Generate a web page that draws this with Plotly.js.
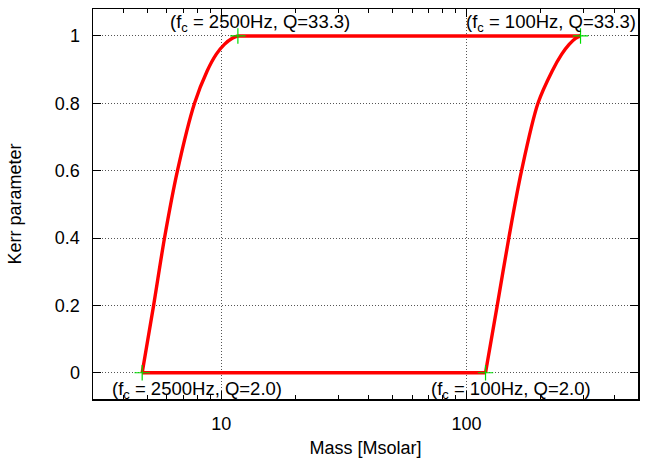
<!DOCTYPE html>
<html>
<head>
<meta charset="utf-8">
<script src="https://cdn.plot.ly/plotly-3.0.1.min.js"></script>
<style>html,body{margin:0;padding:0;background:#fff;}#chart{width:647px;height:458px;}</style>
</head>
<body>
<div id="chart"></div>
<script>
// Boundary: f_c = 2500 Hz curve (left), f_c = 100 Hz curve (right)
const leftMass  = [4.76, 5.30, 5.87, 6.63, 7.78, 8.76, 9.55, 10.30, 11.09, 11.69];
const leftSpin  = [0.0,  0.2,  0.4,  0.6,  0.8,  0.896,0.946,0.975, 0.993, 1.0];
const rightMass = [119.5, 133.4, 148.7, 167.6, 195.5, 223.5, 244.4, 262.0, 278.2, 291.5];
const rightSpin = [0.0,   0.2,   0.4,   0.6,   0.8,   0.896, 0.946, 0.975, 0.993, 1.0];
// Corner labels (Q = 2.0 at spin 0, Q = 33.3 at spin ~1)
const cornerLabels = ["(f<sub>c</sub> = 2500Hz, Q=2.0)", "(f<sub>c</sub> = 2500Hz, Q=33.3)",
                      "(f<sub>c</sub> = 100Hz, Q=2.0)", "(f<sub>c</sub> = 100Hz, Q=33.3)"];
const xTickVals = [10, 100];
const xTickText = ["10", "100"];
const yTickVals = [0, 0.2, 0.4, 0.6, 0.8, 1];
const yTickText = ["0", "0.2", "0.4", "0.6", "0.8", "1"];
const xMinorVals = [3,4,5,6,7,8,9,20,30,40,50,60,70,80,90,200,300,400,500];

const nL = leftMass.length - 1, nR = rightMass.length - 1;
const cornerMass = [leftMass[0], leftMass[nL], rightMass[0], rightMass[nR]];
const cornerSpin = [leftSpin[0], leftSpin[nL], rightSpin[0], rightSpin[nR]];

const font = {family: "Liberation Sans, Arial, sans-serif", size: 18, color: "#000"};
const annFont = {family: "Liberation Sans, Arial, sans-serif", size: 18.5, color: "#000"};
const red = {color: "#ff0000", width: 3.4};

const traces = [
  {x: [leftMass[0], rightMass[0]], y: [leftSpin[0], rightSpin[0]], mode: "lines", type: "scatter", line: red, hoverinfo: "none"},
  {x: [leftMass[nL], rightMass[nR]], y: [leftSpin[nL], rightSpin[nR]], mode: "lines", type: "scatter", line: red, hoverinfo: "none"},
  {x: leftMass, y: leftSpin, mode: "lines", type: "scatter", line: Object.assign({shape: "spline", smoothing: 0.9}, red), hoverinfo: "none"},
  {x: rightMass, y: rightSpin, mode: "lines", type: "scatter", line: Object.assign({shape: "spline", smoothing: 0.9}, red), hoverinfo: "none"},
  {x: cornerMass, y: cornerSpin, mode: "markers", type: "scatter",
   marker: {symbol: "cross-thin", size: 11, line: {color: "#00dd00", width: 1.2}}, hoverinfo: "none"}
];

const annX = [0.5446, 0.781, 1.845, 2.697];
const annY = [-0.05, 1.037, -0.05, 1.037];
const annAnchor = ["left", "left", "left", "right"];
const annotations = cornerLabels.map((t, i) => ({
  text: t, x: annX[i], y: annY[i], xref: "x", yref: "y",
  showarrow: false, xanchor: annAnchor[i], yanchor: "middle", font: annFont
}));

const layout = {
  width: 647, height: 458,
  margin: {l: 93, r: 9, t: 9, b: 59},
  paper_bgcolor: "#fff", plot_bgcolor: "#fff",
  showlegend: false,
  font: font,
  xaxis: {
    type: "log", range: [Math.log10(3), Math.log10(500)],
    tickvals: xTickVals, ticktext: xTickText,
    ticks: "inside", ticklen: 8, tickcolor: "#000", tickwidth: 1,
    mirror: "allticks", showline: true, linecolor: "#000", linewidth: 1.5,
    showgrid: true, gridcolor: "#555", griddash: "1px,2px", gridwidth: 1,
    zeroline: false,
    minor: {tickvals: xMinorVals, ticks: "inside", ticklen: 4, tickcolor: "#000", showgrid: false},
    ticklabelstandoff: 8,
    title: {text: "Mass [Msolar]", font: font, standoff: 12}
  },
  yaxis: {
    range: [-0.078, 1.080],
    tickvals: yTickVals, ticktext: yTickText,
    ticks: "inside", ticklen: 8, tickcolor: "#000", tickwidth: 1,
    mirror: "allticks", showline: true, linecolor: "#000", linewidth: 1.5,
    showgrid: true, gridcolor: "#555", griddash: "1px,2px", gridwidth: 1,
    zeroline: false,
    ticklabelstandoff: 8,
    title: {text: "Kerr parameter", font: font, standoff: 28}
  },
  annotations: annotations
};

Plotly.newPlot("chart", traces, layout, {staticPlot: true, displayModeBar: false});
</script>
</body>
</html>
